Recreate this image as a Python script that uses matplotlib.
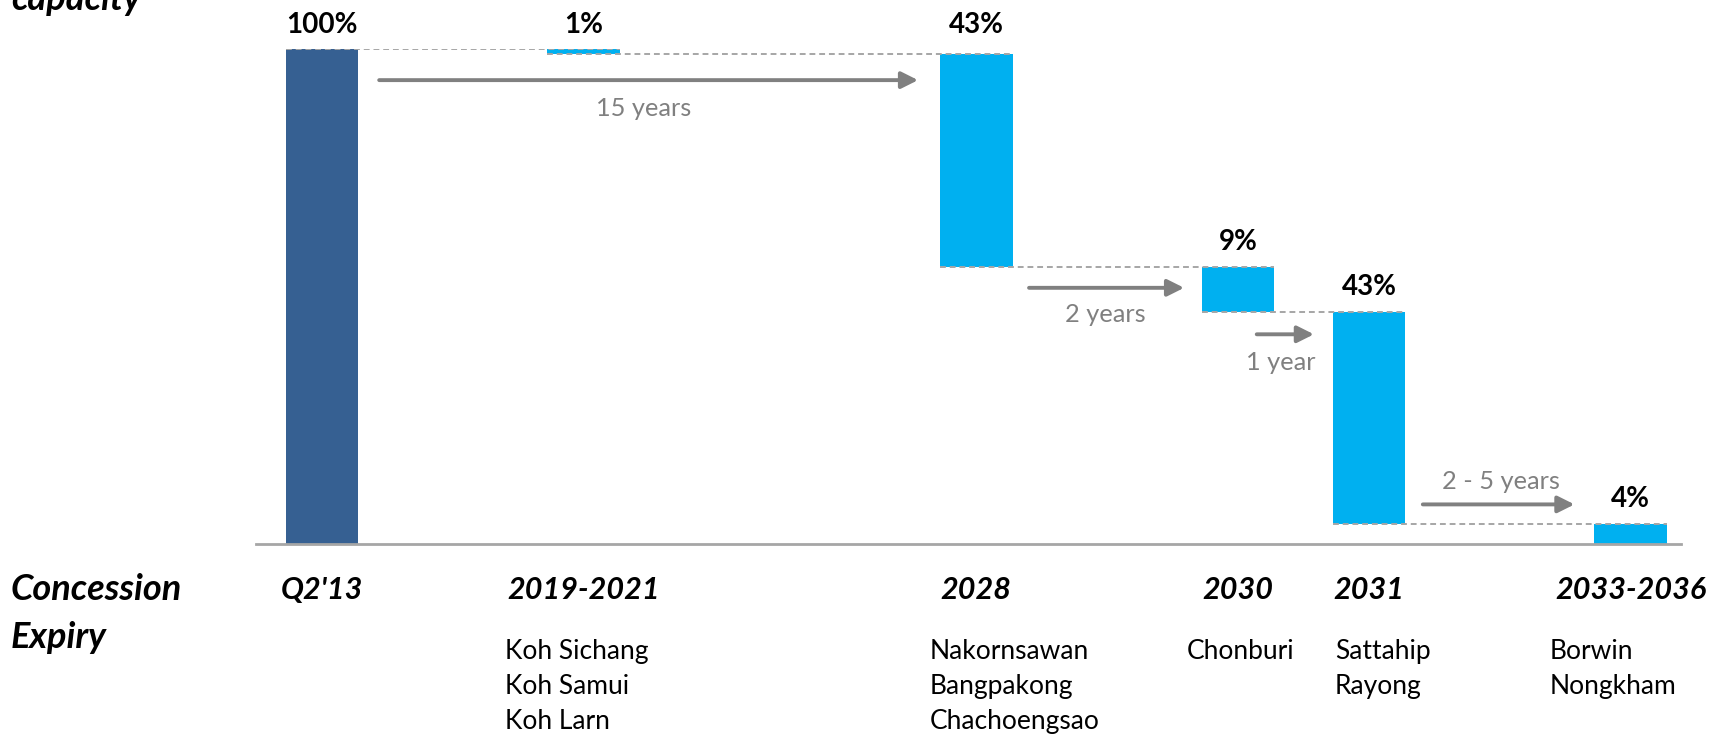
import matplotlib
matplotlib.use("Agg")
import matplotlib.pyplot as plt

plt.rcParams['font.family'] = ['Lato', 'DejaVu Sans']

# ---- data ----
categories = ["Q2'13", "2019-2021", "2028", "2030", "2031", "2033-2036"]
slots = [0, 2, 5, 7, 8, 10]          # category slot on the time-like axis
values = [100, 1, 43, 9, 43, 4]      # share of capacity (%)
labels = ["100%", "1%", "43%", "9%", "43%", "4%"]
locations = [
    [],
    ["Koh Sichang", "Koh Samui", "Koh Larn"],
    ["Nakornsawan", "Bangpakong", "Chachoengsao"],
    ["Chonburi"],
    ["Sattahip", "Rayong"],
    ["Borwin", "Nongkham"],
]
gap_labels = ["15 years", "2 years", "1 year", "2 - 5 years"]

# ---- style ----
DARK = "#366092"
LIGHT = "#00B0F0"
GRAY = "#808080"
DASH = "#A6A6A6"
W = 0.554

fig = plt.figure(figsize=(17.23, 7.34), dpi=100)
ax = fig.add_axes([0.1486, 0.2589, 0.8271, 0.6737])
ax.set_xlim(-0.504, 10.386)
ax.set_ylim(0, 100)
for s in ["top", "right", "left"]:
    ax.spines[s].set_visible(False)
ax.spines["bottom"].set_color("#A6A6A6")
ax.spines["bottom"].set_linewidth(2)
ax.set_xticks([])
ax.set_yticks([])

# waterfall bars
bottoms, tops = [], []
level = 0
for i, v in enumerate(values):
    if i == 0:
        b, t = 0, v
        level = v
    else:
        t = level
        b = level - v
        level = b
    bottoms.append(b)
    tops.append(t)
    ax.bar(slots[i], t - b, bottom=b, width=W,
           color=DARK if i == 0 else LIGHT, zorder=2)

# dashed connectors
for i in range(len(values) - 1):
    yv = tops[0] if i == 0 else bottoms[i]
    ax.plot([slots[i] - W / 2, slots[i + 1] + W / 2], [yv, yv],
            ls=(0, (3, 2)), color=DASH, lw=1.4, zorder=3)

# value labels
for i, lab in enumerate(labels):
    yl = tops[0] if i in (0, 1, 2) else tops[i]
    ax.text(slots[i], yl + 5.0, lab, ha="center", va="center",
            fontsize=20, fontweight="bold", color="black")

# gap arrows
arrows = [
    (0.437, 4.555, 93.8, 2.454, 88.0),
    (5.403, 6.588, 51.8, 5.983, 46.4),
    (7.143, 7.580, 42.4, 7.328, 36.7),
    (8.412, 9.571, 8.0, 9.008, 12.7),
]
for (x0, x1, ya, xl, yl), txt in zip(arrows, gap_labels):
    ax.annotate("", xy=(x1, ya), xytext=(x0, ya),
                arrowprops=dict(arrowstyle="-|>,head_length=1.0,head_width=0.5",
                                color=GRAY, lw=2.8, shrinkA=0, shrinkB=0))
    ax.text(xl, yl, txt, ha="center", va="center", fontsize=18.3, color=GRAY)

# category labels
for s, c in zip(slots, categories):
    ax.text(s, -9.4, c, ha="center", va="center", fontsize=22,
            fontweight="bold", fontstyle="italic", color="black")

# location lists
loc_x = [None, 1.395, 4.647, 6.605, 7.74, 9.378]
for lx, names in zip(loc_x, locations):
    for k, nm in enumerate(names):
        ax.text(lx, -21.7 - 7.1 * k, nm, ha="left", va="center",
                fontsize=19, color="black")

fig.text(0.0064, 1 - 590 / 734, "Concession", ha="left", va="center",
         fontsize=26, fontweight="bold", fontstyle="italic")
fig.text(0.0064, 1 - 637 / 734, "Expiry", ha="left", va="center",
         fontsize=26, fontweight="bold", fontstyle="italic")
fig.text(0.0064, 1 - 10 / 734, "capacity", ha="left", va="baseline",
         fontsize=26, fontweight="bold", fontstyle="italic")

fig.savefig("out.png", dpi=100)
